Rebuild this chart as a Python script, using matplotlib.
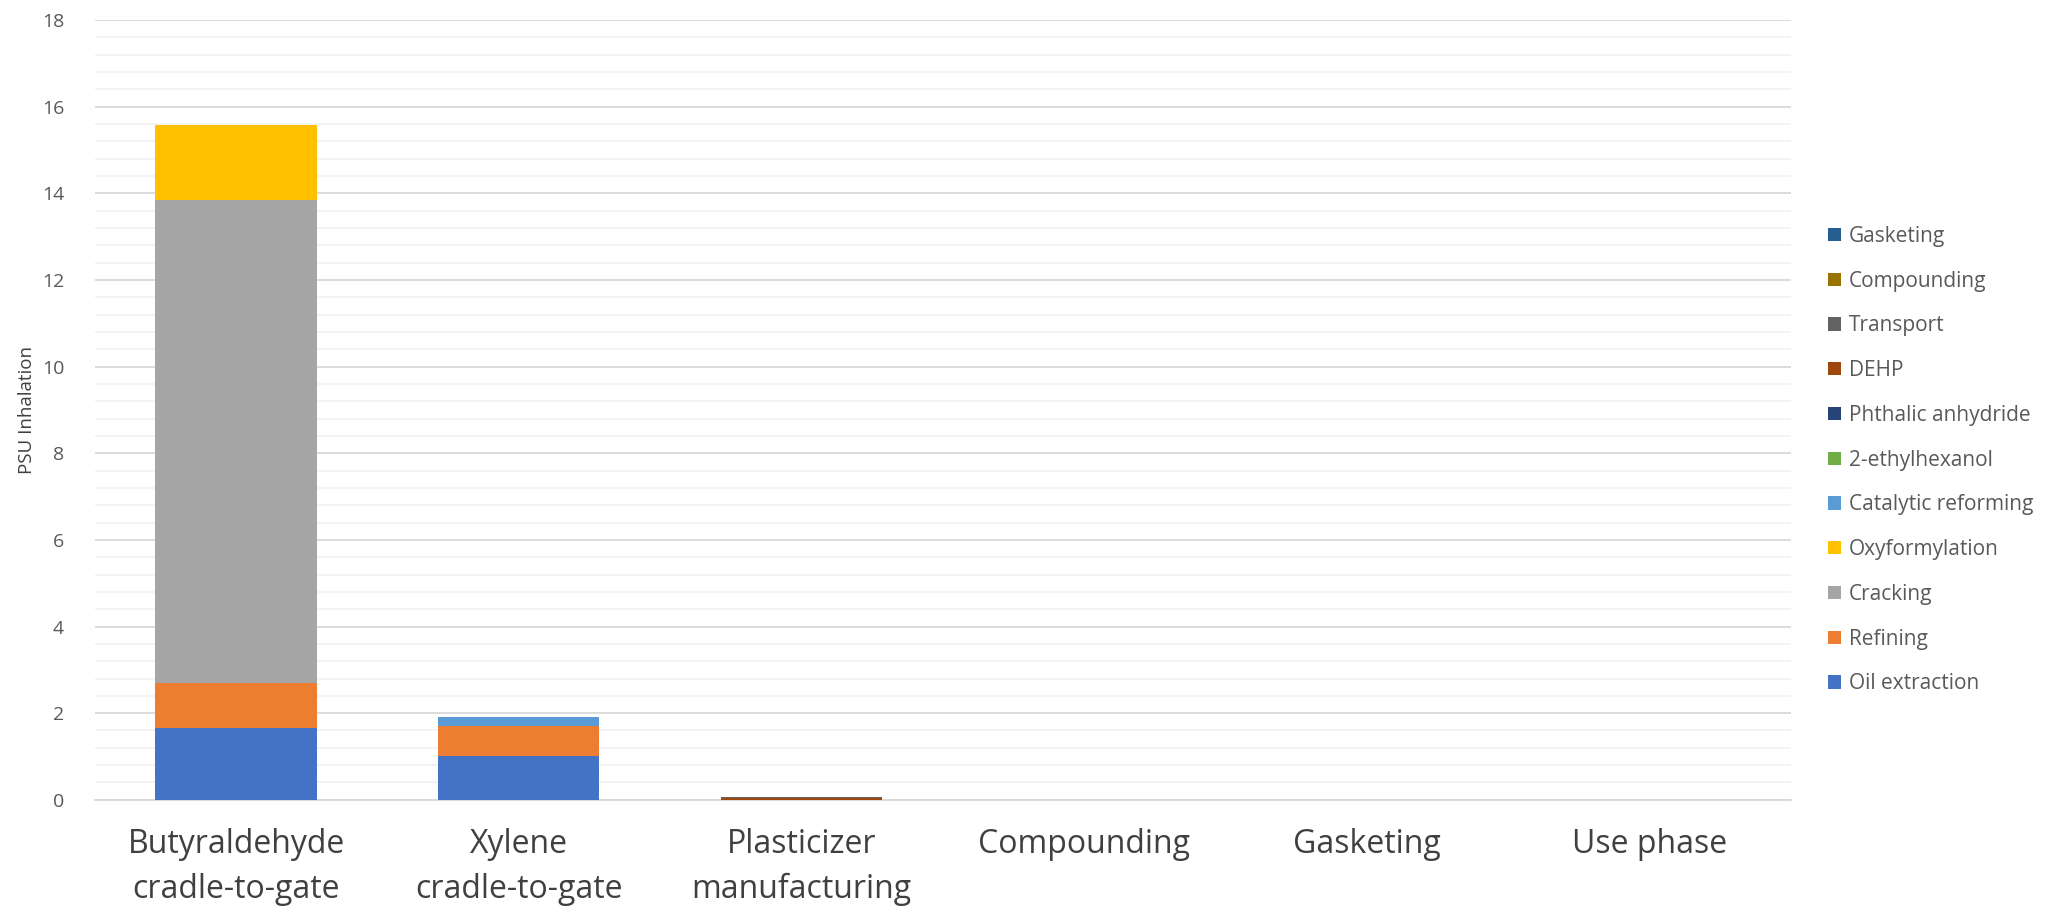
import matplotlib
matplotlib.use("Agg")
import matplotlib.pyplot as plt
import numpy as np
from matplotlib.ticker import MultipleLocator
from matplotlib.patches import Patch

plt.rcParams['font.family'] = ['Open Sans', 'DejaVu Sans']

categories = ["Butyraldehyde\ncradle-to-gate", "Xylene\ncradle-to-gate", "Plasticizer\nmanufacturing",
              "Compounding", "Gasketing", "Use phase"]

series_names = ["Oil extraction", "Refining", "Cracking", "Oxyformylation", "Catalytic reforming",
                "2-ethylhexanol", "Phthalic anhydride", "DEHP", "Transport", "Compounding", "Gasketing"]

oil_extraction      = [1.65, 1.02, 0.0, 0.0, 0.0, 0.0]
refining            = [1.05, 0.68, 0.0, 0.0, 0.0, 0.0]
cracking            = [11.15, 0.0, 0.0, 0.0, 0.0, 0.0]
oxyformylation      = [1.72, 0.0, 0.0, 0.0, 0.0, 0.0]
catalytic_reforming = [0.0, 0.2, 0.0, 0.0, 0.0, 0.0]
ethylhexanol        = [0.0, 0.0, 0.0, 0.0, 0.0, 0.0]
phthalic_anhydride  = [0.0, 0.0, 0.0, 0.0, 0.0, 0.0]
dehp                = [0.0, 0.0, 0.05, 0.0, 0.0, 0.0]
transport           = [0.0, 0.0, 0.01, 0.0, 0.0, 0.0]
compounding         = [0.0, 0.0, 0.0, 0.0, 0.0, 0.0]
gasketing           = [0.0, 0.0, 0.0, 0.0, 0.0, 0.0]

series_values = [oil_extraction, refining, cracking, oxyformylation, catalytic_reforming,
                 ethylhexanol, phthalic_anhydride, dehp, transport, compounding, gasketing]

colors = ["#4472C4", "#ED7D31", "#A5A5A5", "#FFC000", "#5B9BD5", "#70AD47",
          "#264478", "#9E480E", "#636363", "#997300", "#255E91"]

fig = plt.figure(figsize=(20.62, 9.13), dpi=100)
ax = fig.add_axes([0.0459, 0.124, 0.8227, 0.854])

x = np.arange(len(categories))
bottom = np.zeros(len(categories))
for name, vals, c in zip(series_names, series_values, colors):
    v = np.array(vals)
    ax.bar(x, v, bottom=bottom, width=0.57, color=c, label=name, zorder=3)
    bottom += v

ax.set_xlim(-0.5, len(categories) - 0.5)
ax.set_ylim(0, 18)
ax.yaxis.set_major_locator(MultipleLocator(2))
ax.yaxis.set_minor_locator(MultipleLocator(0.4))
ax.grid(which='major', axis='y', color='#D9D9D9', linewidth=1.3, zorder=0)
ax.grid(which='minor', axis='y', color='#F2F2F2', linewidth=1.3, zorder=0)
for s in ['top', 'right', 'left']:
    ax.spines[s].set_visible(False)
ax.spines['bottom'].set_color('#D9D9D9')
ax.spines['bottom'].set_linewidth(1.3)
ax.tick_params(axis='y', which='both', length=0, labelsize=14, labelcolor='#595959', pad=22)
ax.tick_params(axis='x', length=0, labelsize=23, labelcolor='#404040', pad=20)
ax.set_xticks(x)
ax.set_xticklabels(categories, linespacing=1.5)
ax.set_ylabel("PSU Inhalation", fontsize=13.5, color='#404040', labelpad=4)

handles = [Patch(facecolor=c, label=n) for n, c in zip(series_names, colors)][::-1]
leg = fig.legend(handles=handles, loc='center left', bbox_to_anchor=(0.8776, 0.496),
                 frameon=False, fontsize=15, labelcolor='#595959',
                 handlelength=0.6, handleheight=0.6, handletextpad=0.4, labelspacing=1.14)

fig.savefig("out.png", dpi=100)
